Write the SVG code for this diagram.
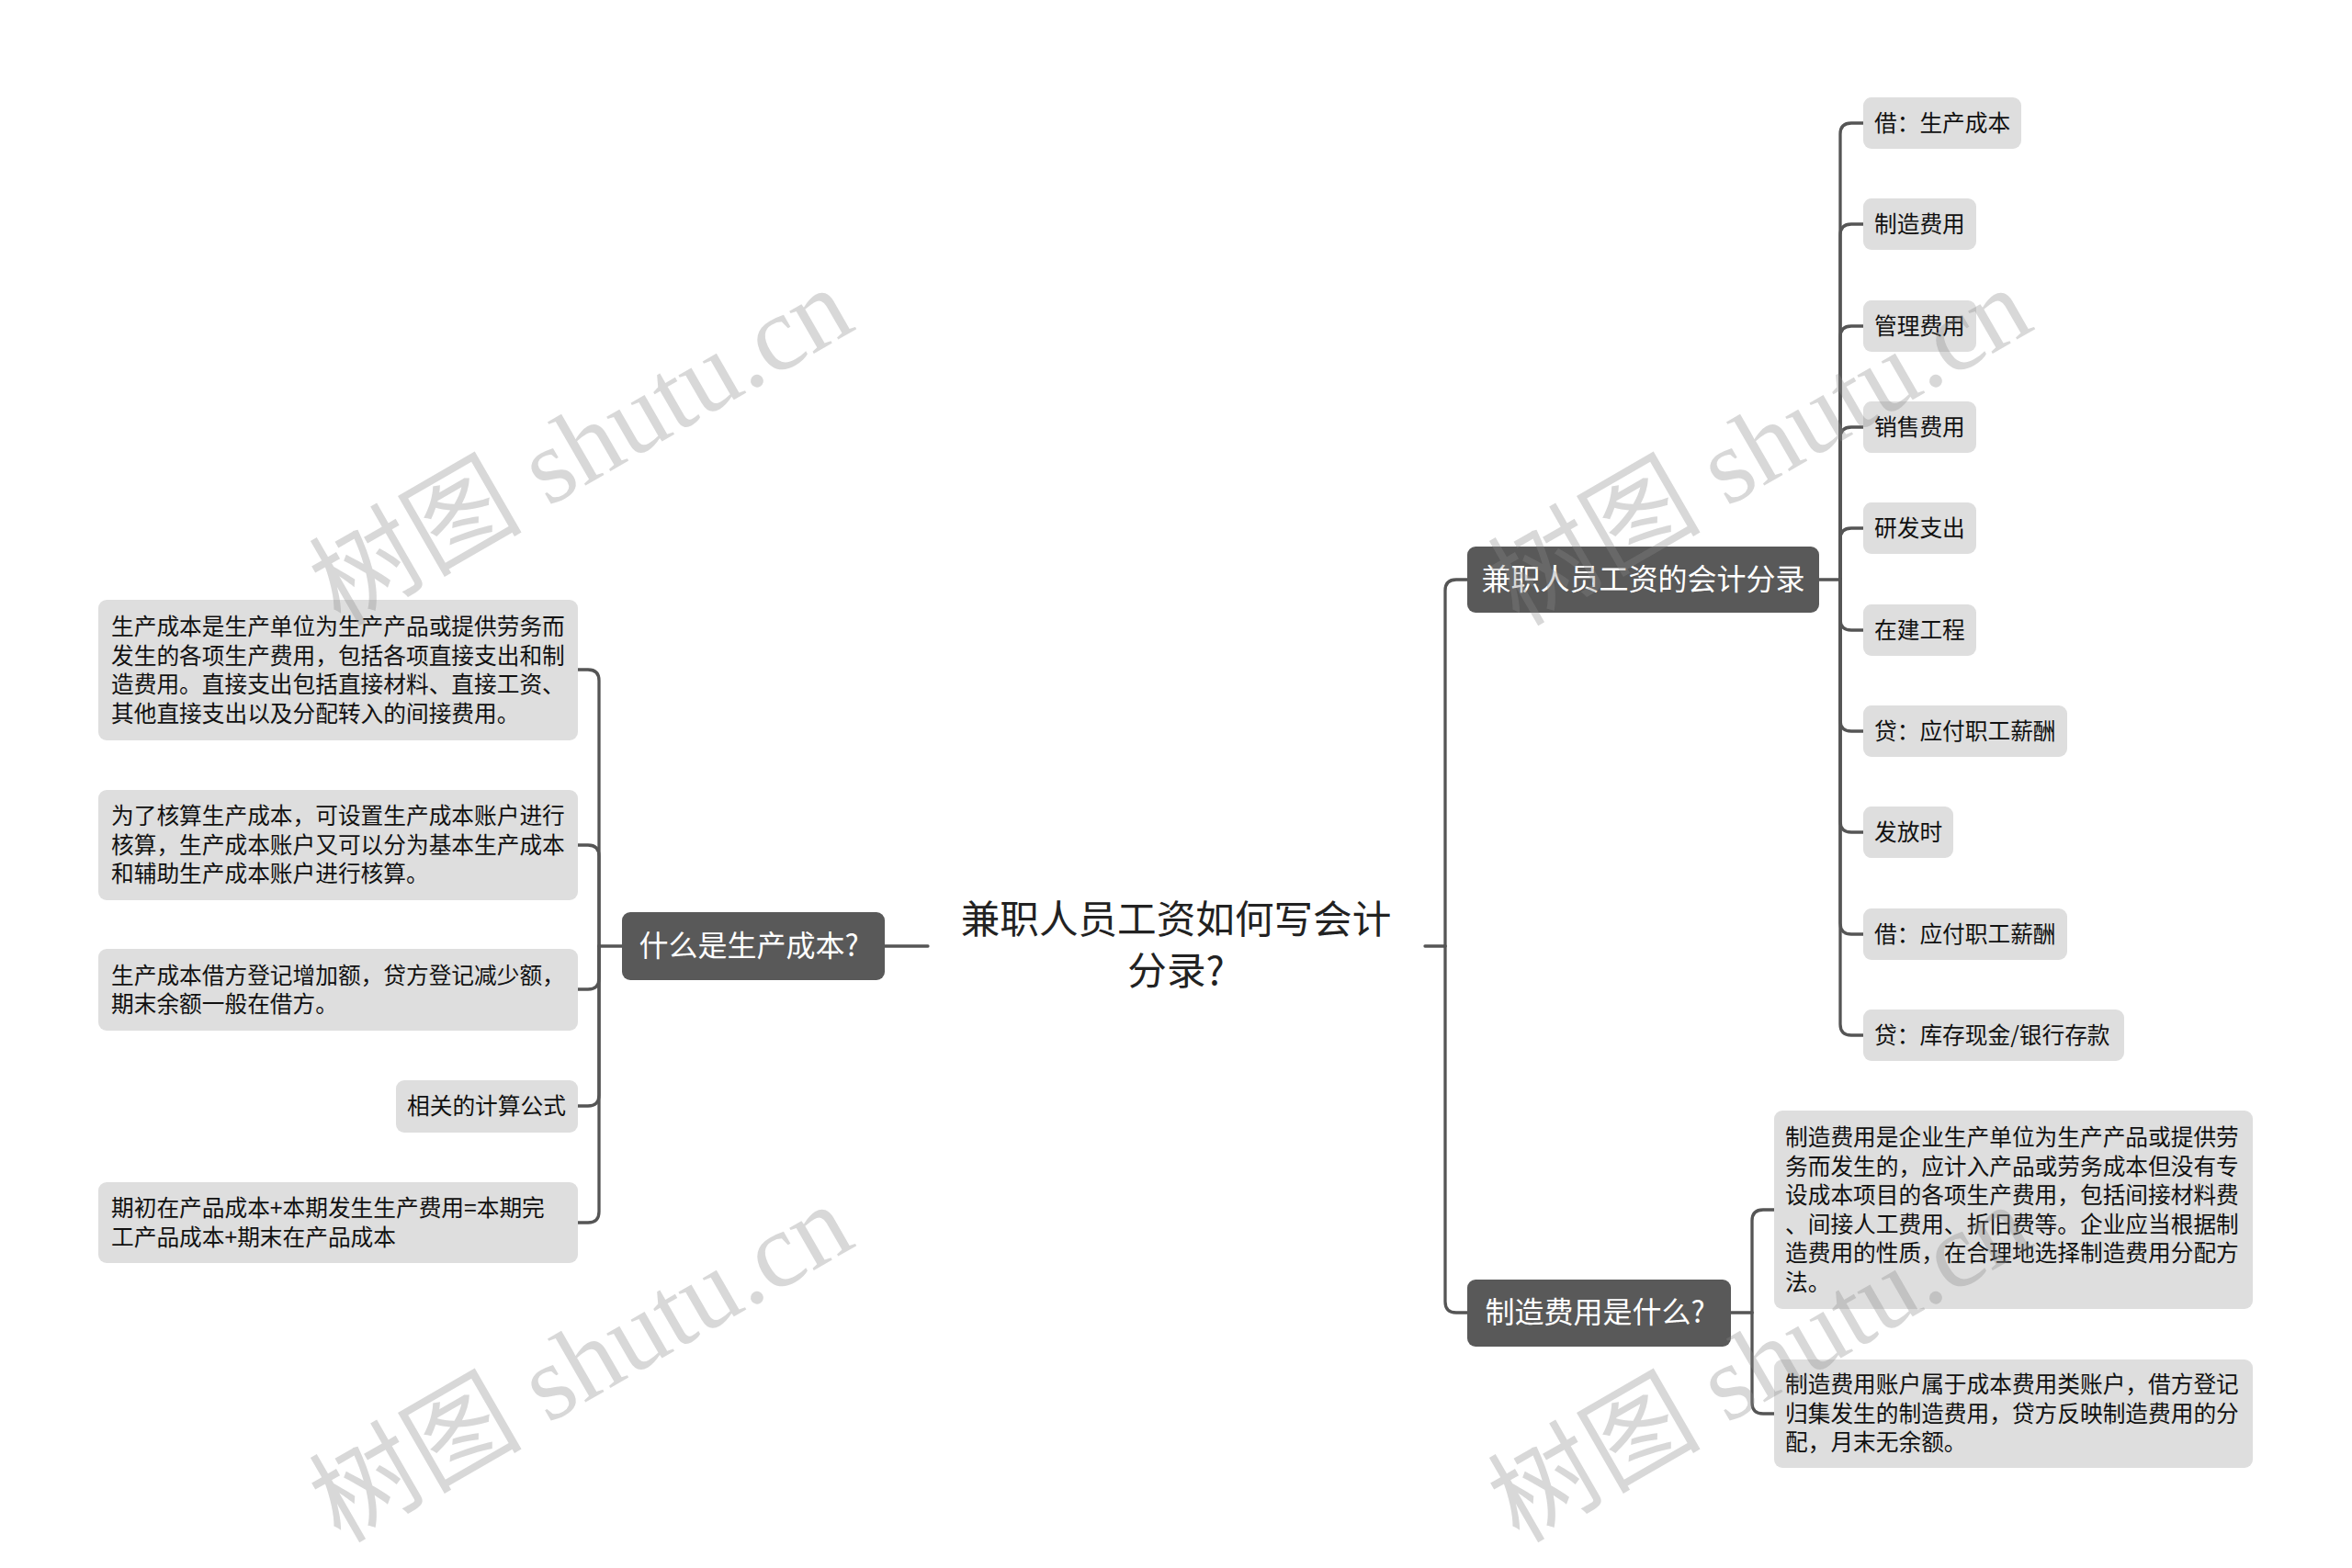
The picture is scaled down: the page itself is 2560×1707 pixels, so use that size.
<svg xmlns="http://www.w3.org/2000/svg" width="2560" height="1707" viewBox="0 0 2560 1707">
<style>
.bg{fill:#ffffff}
.leaf{fill:#dedede}
.main{fill:#595959}
.t{font-family:"Noto Sans CJK SC","Noto Sans",sans-serif;font-size:24.7px;fill:#111111}
.tm{font-family:"Noto Sans CJK SC","Noto Sans",sans-serif;font-size:32px;fill:#ffffff;text-anchor:middle}
.root{font-family:"Noto Sans CJK SC","Noto Sans",sans-serif;font-size:42.6px;fill:#222222;text-anchor:middle}
.c{fill:none;stroke:#555555;stroke-width:3.3;stroke-linecap:round}
.wm{font-family:"Liberation Serif","Noto Sans CJK SC",serif;font-size:116px;fill:#8a8a8a;fill-opacity:0.33;text-anchor:middle}
</style>
<rect class="bg" x="0" y="0" width="2560" height="1707"/>

<g id="connectors">
<path class="c" d="M963 1030 H1010"/>
<path class="c" d="M1551 1030 H1573"/>
<path class="c" d="M652 1030 H677"/>
<path class="c" d="M652 1030 V741 Q652 729 640 729 H629"/>
<path class="c" d="M652 1030 V932 Q652 920 640 920 H629"/>
<path class="c" d="M652 1030 V1065 Q652 1077 640 1077 H629"/>
<path class="c" d="M652 1030 V1192 Q652 1204 640 1204 H629"/>
<path class="c" d="M652 1030 V1319 Q652 1331 640 1331 H629"/>
<path class="c" d="M1573 1030 V643 Q1573 631 1585 631 H1597"/>
<path class="c" d="M1573 1030 V1417 Q1573 1429 1585 1429 H1597"/>
<path class="c" d="M1980 631 H2003"/>
<path class="c" d="M2003 631 V146 Q2003 134 2015 134 H2028"/>
<path class="c" d="M2003 631 V256 Q2003 244 2015 244 H2028"/>
<path class="c" d="M2003 631 V367 Q2003 355 2015 355 H2028"/>
<path class="c" d="M2003 631 V477 Q2003 465 2015 465 H2028"/>
<path class="c" d="M2003 631 V587 Q2003 575 2015 575 H2028"/>
<path class="c" d="M2003 631 V674 Q2003 686 2015 686 H2028"/>
<path class="c" d="M2003 631 V784 Q2003 796 2015 796 H2028"/>
<path class="c" d="M2003 631 V894 Q2003 906 2015 906 H2028"/>
<path class="c" d="M2003 631 V1005 Q2003 1017 2015 1017 H2028"/>
<path class="c" d="M2003 631 V1115 Q2003 1127 2015 1127 H2028"/>
<path class="c" d="M1884 1429 H1907"/>
<path class="c" d="M1907 1429 V1329 Q1907 1317 1919 1317 H1931"/>
<path class="c" d="M1907 1429 V1527 Q1907 1539 1919 1539 H1931"/>
</g>

<g id="root">
<text class="root" x="1280" y="1016">兼职人员工资如何写会计</text>
<text class="root" x="1280" y="1072">分录?</text>
</g>

<g id="branch-left">
<rect class="main" x="677" y="993" width="286" height="74" rx="9"/>
<text class="tm" x="815" y="1041">什么是生产成本?</text>
</g>

<g id="left-1">
<rect class="leaf" x="107" y="653" width="522" height="153" rx="9"/>
<text class="t" x="121" y="691">生产成本是生产单位为生产产品或提供劳务而</text>
<text class="t" x="121" y="722.5">发生的各项生产费用，包括各项直接支出和制</text>
<text class="t" x="121" y="754">造费用。直接支出包括直接材料、直接工资、</text>
<text class="t" x="121" y="785.5">其他直接支出以及分配转入的间接费用。</text>
</g>

<g id="left-2">
<rect class="leaf" x="107" y="860" width="522" height="120" rx="9"/>
<text class="t" x="121" y="897">为了核算生产成本，可设置生产成本账户进行</text>
<text class="t" x="121" y="928.5">核算，生产成本账户又可以分为基本生产成本</text>
<text class="t" x="121" y="960">和辅助生产成本账户进行核算。</text>
</g>

<g id="left-3">
<rect class="leaf" x="107" y="1033" width="522" height="89" rx="9"/>
<text class="t" x="121" y="1070.5">生产成本借方登记增加额，贷方登记减少额，</text>
<text class="t" x="121" y="1102">期末余额一般在借方。</text>
</g>

<g id="left-4">
<rect class="leaf" x="431" y="1176" width="198" height="57" rx="9"/>
<text class="t" x="443" y="1213">相关的计算公式</text>
</g>

<g id="left-5">
<rect class="leaf" x="107" y="1287" width="522" height="88" rx="9"/>
<text class="t" x="121" y="1324">期初在产品成本+本期发生生产费用=本期完</text>
<text class="t" x="121" y="1355.5">工产品成本+期末在产品成本</text>
</g>

<g id="branch-right-1">
<rect class="main" x="1597" y="595" width="383" height="72" rx="9"/>
<text class="tm" x="1788.5" y="642">兼职人员工资的会计分录</text>
</g>

<g id="r1-1"><rect class="leaf" x="2028" y="106" width="172" height="56" rx="9"/><text class="t" x="2040" y="143">借：生产成本</text></g>
<g id="r1-2"><rect class="leaf" x="2028" y="216" width="123" height="56" rx="9"/><text class="t" x="2040" y="253">制造费用</text></g>
<g id="r1-3"><rect class="leaf" x="2028" y="327" width="123" height="56" rx="9"/><text class="t" x="2040" y="364">管理费用</text></g>
<g id="r1-4"><rect class="leaf" x="2028" y="437" width="123" height="56" rx="9"/><text class="t" x="2040" y="474">销售费用</text></g>
<g id="r1-5"><rect class="leaf" x="2028" y="547" width="123" height="56" rx="9"/><text class="t" x="2040" y="584">研发支出</text></g>
<g id="r1-6"><rect class="leaf" x="2028" y="658" width="123" height="56" rx="9"/><text class="t" x="2040" y="695">在建工程</text></g>
<g id="r1-7"><rect class="leaf" x="2028" y="768" width="222" height="56" rx="9"/><text class="t" x="2040" y="805">贷：应付职工薪酬</text></g>
<g id="r1-8"><rect class="leaf" x="2028" y="878" width="98" height="56" rx="9"/><text class="t" x="2040" y="915">发放时</text></g>
<g id="r1-9"><rect class="leaf" x="2028" y="989" width="222" height="56" rx="9"/><text class="t" x="2040" y="1026">借：应付职工薪酬</text></g>
<g id="r1-10"><rect class="leaf" x="2028" y="1099" width="284" height="56" rx="9"/><text class="t" x="2040" y="1136">贷：库存现金/银行存款</text></g>

<g id="branch-right-2">
<rect class="main" x="1597" y="1393" width="287" height="73" rx="9"/>
<text class="tm" x="1736" y="1440">制造费用是什么?</text>
</g>

<g id="r2-1">
<rect class="leaf" x="1931" y="1209" width="521" height="216" rx="9"/>
<text class="t" x="1943" y="1247">制造费用是企业生产单位为生产产品或提供劳</text>
<text class="t" x="1943" y="1278.5">务而发生的，应计入产品或劳务成本但没有专</text>
<text class="t" x="1943" y="1310">设成本项目的各项生产费用，包括间接材料费</text>
<text class="t" x="1943" y="1341.5">、间接人工费用、折旧费等。企业应当根据制</text>
<text class="t" x="1943" y="1373">造费用的性质，在合理地选择制造费用分配方</text>
<text class="t" x="1943" y="1404.5">法。</text>
</g>

<g id="r2-2">
<rect class="leaf" x="1931" y="1480" width="521" height="118" rx="9"/>
<text class="t" x="1943" y="1516">制造费用账户属于成本费用类账户，借方登记</text>
<text class="t" x="1943" y="1547.5">归集发生的制造费用，贷方反映制造费用的分</text>
<text class="t" x="1943" y="1579">配，月末无余额。</text>
</g>

<g id="watermarks">
<text class="wm" transform="translate(652 520) rotate(-30)">树图 shutu.cn</text>
<text class="wm" transform="translate(652 1518) rotate(-30)">树图 shutu.cn</text>
<text class="wm" transform="translate(1935 520) rotate(-30)">树图 shutu.cn</text>
<text class="wm" transform="translate(1935 1518) rotate(-30)">树图 shutu.cn</text>
</g>
</svg>
